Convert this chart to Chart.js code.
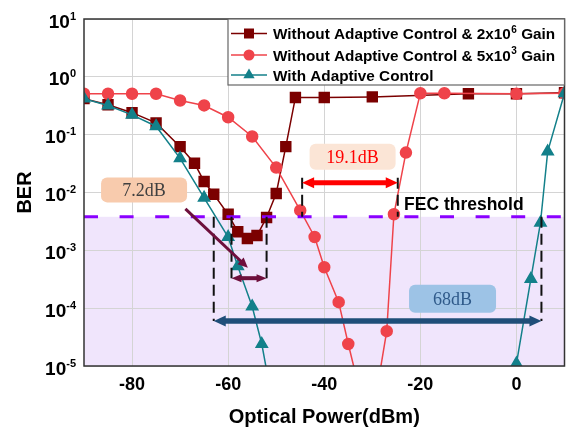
<!DOCTYPE html>
<html>
<head>
<meta charset="utf-8">
<script src="https://cdn.jsdelivr.net/npm/chart.js@4.4.0/dist/chart.umd.min.js"></script>
<style>
  body { margin: 0; background: #fff; }
  canvas { display: block; }
</style>
</head>
<body>
<canvas id="ber-chart" width="573" height="430"></canvas>
<script>
// ================== Dados ==================

// Without Adaptive Control & 2x10^6 Gain (quadrados)
const powerGainHigh = [-90, -85, -80, -75, -70, -67, -65, -63, -60, -58, -56, -54, -52, -50, -48, -46, -40, -30, -10, 0, 10];
const berGainHigh = [0.42, 0.33, 0.24, 0.16, 0.062, 0.032, 0.0155, 0.0093, 0.0042, 0.0021, 0.0016, 0.0018, 0.0037, 0.0096, 0.062, 0.44, 0.44, 0.45, 0.51, 0.51, 0.53];

// Without Adaptive Control & 5x10^3 Gain (círculos)
const powerGainLow = [-90, -85, -80, -75, -70, -65, -60, -55, -50, -45, -42, -40, -37, -35, -33, -29, -27, -25.5, -23, -20, -15, 0, 10];
const berGainLow = [0.51, 0.51, 0.51, 0.51, 0.39, 0.32, 0.2, 0.093, 0.027, 0.0049, 0.0017, 5.1e-4, 1.27e-4, 2.4e-5, 5e-6, 4e-6, 4e-5, 0.0042, 0.049, 0.52, 0.52, 0.51, 0.52];

// With Adaptive Control (triângulos) - null separa os dois ramos
const powerAdaptive = [-90, -85, -80, -75, -70, -65, -60, -58, -55, -53, -51, -20, 0, 3, 5, 6.5, 10];
const berAdaptive = [0.42, 0.32, 0.22, 0.14, 0.039, 0.0081, 0.0017, 5.3e-4, 1.07e-4, 2.4e-5, 3e-6, null, 1.1e-5, 3.2e-4, 3e-3, 0.051, 0.52];

const legendLabels = [
  ["Without Adaptive Control & 2x10", "6", " Gain"],
  ["Without Adaptive Control & 5x10", "3", " Gain"],
  ["With Adaptive Control", "", ""],
];

const xTicks = [-80, -60, -40, -20, 0];
const yExps = [-5, -4, -3, -2, -1, 0, 1];
const fecLevel = 3.8e-3;

// ================== Estilos ==================

const COR_QUADRADO = "#7b0000";
const COR_CIRCULO = "#ef434a";
const COR_TRIANGULO = "#13808a";
const SANS = "'Liberation Sans', Arial, sans-serif";
const SERIF = "'Liberation Serif', 'Times New Roman', serif";

function toPoints(xs, ys) {
  return xs.map((x, i) => ({ x, y: ys[i] }));
}

// anotações em unidades de dados
const vLines = [
  { x: -63, from: fecLevel, to: 6e-5 },
  { x: -59.3, from: fecLevel, to: 3.3e-4 },
  { x: -52, from: fecLevel, to: 3.3e-4 },
  { x: 5.2, from: fecLevel, to: 6e-5 },
  { x: -44.6, from: 0.018, to: fecLevel },
  { x: -24.7, from: 0.018, to: fecLevel },
];

const arrows = [
  { x1: -59.3, x2: -52, y: 3.3e-4, color: "#6e0f3c", lw: 4, hl: 10, hw: 8 },
  { x1: -44.6, x2: -24.7, y: 0.0147, color: "#ff0000", lw: 5, hl: 12, hw: 11 },
  { x1: -63, x2: 5.2, y: 6e-5, color: "#1f4e79", lw: 5.5, hl: 12, hw: 11 },
];

const labels = [
  { text: "7.2dB", x: -77.5, y: 0.0111, w: 86, h: 25, fill: "#f8cbad", color: "#404040" },
  { text: "19.1dB", x: -34.1, y: 0.0414, w: 86, h: 26, fill: "#fbe5d6", color: "#ff0000" },
  { text: "68dB", x: -13.3, y: 1.45e-4, w: 87, h: 28, fill: "#9dc3e6", color: "#2f5a8a" },
];

// ================== Desenho auxiliar ==================

function arrowHead(ctx, x, y, dir, hl, hw) {
  // dir = ângulo da direção da ponta
  ctx.beginPath();
  ctx.moveTo(x, y);
  ctx.lineTo(x - hl * Math.cos(dir) + (hw / 2) * Math.sin(dir), y - hl * Math.sin(dir) - (hw / 2) * Math.cos(dir));
  ctx.lineTo(x - hl * Math.cos(dir) - (hw / 2) * Math.sin(dir), y - hl * Math.sin(dir) + (hw / 2) * Math.cos(dir));
  ctx.closePath();
  ctx.fill();
}

function drawMarker(ctx, style, x, y, color) {
  ctx.fillStyle = color;
  ctx.beginPath();
  if (style === "rect") {
    ctx.rect(x - 5, y - 5, 10, 10);
  } else if (style === "circle") {
    ctx.arc(x, y, 5.5, 0, Math.PI * 2);
  } else {
    const r = 6.5;
    ctx.moveTo(x, y - r);
    ctx.lineTo(x + r * Math.sin(Math.PI / 3), y + r / 2);
    ctx.lineTo(x - r * Math.sin(Math.PI / 3), y + r / 2);
    ctx.closePath();
  }
  ctx.fill();
}

const annotationsPlugin = {
  id: "annotations",
  beforeDraw(chart) {
    const { ctx, chartArea: a, scales } = chart;
    ctx.save();
    ctx.fillStyle = "#fff";
    ctx.fillRect(0, 0, chart.width, chart.height);
    const yf = scales.y.getPixelForValue(fecLevel);
    ctx.fillStyle = "#f0e5fc";
    ctx.fillRect(a.left, yf, a.right - a.left, a.bottom - yf);
    ctx.restore();
  },
  afterDatasetsDraw(chart) {
    const { ctx, chartArea: a, scales } = chart;
    const px = (v) => scales.x.getPixelForValue(v);
    const py = (v) => scales.y.getPixelForValue(v);
    ctx.save();

    // linha FEC
    const yf = py(fecLevel);
    ctx.strokeStyle = "#8a00ff";
    ctx.lineWidth = 3;
    ctx.setLineDash([14, 21.6]);
    ctx.beginPath();
    ctx.moveTo(a.left, yf);
    ctx.lineTo(a.right, yf);
    ctx.stroke();

    // verticais tracejadas
    ctx.strokeStyle = "#111";
    ctx.lineWidth = 2;
    ctx.setLineDash([11, 6]);
    vLines.forEach((l) => {
      ctx.beginPath();
      ctx.moveTo(px(l.x), py(l.from));
      ctx.lineTo(px(l.x), py(l.to));
      ctx.stroke();
    });
    ctx.setLineDash([]);

    // setas duplas
    arrows.forEach((ar) => {
      const x1 = px(ar.x1), x2 = px(ar.x2), y = py(ar.y);
      ctx.strokeStyle = ar.color;
      ctx.fillStyle = ar.color;
      ctx.lineWidth = ar.lw;
      ctx.beginPath();
      ctx.moveTo(x1 + ar.hl - 1, y);
      ctx.lineTo(x2 - ar.hl + 1, y);
      ctx.stroke();
      arrowHead(ctx, x1, y, Math.PI, ar.hl, ar.hw);
      arrowHead(ctx, x2, y, 0, ar.hl, ar.hw);
    });

    // seta diagonal do 7.2dB
    const dx1 = px(-68.9), dy1 = py(5.2e-3), dx2 = px(-55.9), dy2 = py(5e-4);
    const ang = Math.atan2(dy2 - dy1, dx2 - dx1);
    ctx.strokeStyle = "#6e0f3c";
    ctx.fillStyle = "#6e0f3c";
    ctx.lineWidth = 3;
    ctx.beginPath();
    ctx.moveTo(dx1, dy1);
    ctx.lineTo(dx2 - 8 * Math.cos(ang), dy2 - 8 * Math.sin(ang));
    ctx.stroke();
    arrowHead(ctx, dx2, dy2, ang, 10, 9);

    // caixas de texto
    labels.forEach((lb) => {
      const cx = px(lb.x), cy = py(lb.y);
      ctx.fillStyle = lb.fill;
      ctx.beginPath();
      ctx.roundRect(cx - lb.w / 2, cy - lb.h / 2, lb.w, lb.h, 6);
      ctx.fill();
      ctx.fillStyle = lb.color;
      ctx.font = "18px " + SERIF;
      ctx.textAlign = "center";
      ctx.textBaseline = "middle";
      ctx.fillText(lb.text, cx, cy + 1);
    });

    // texto FEC
    ctx.fillStyle = "#000";
    ctx.font = "bold 17.5px " + SANS;
    ctx.textAlign = "left";
    ctx.textBaseline = "alphabetic";
    ctx.fillText("FEC threshold", px(-23.4), yf - 7);

    ctx.restore();
  },
  afterDraw(chart) {
    const { ctx, chartArea: a, scales } = chart;
    const py = (v) => scales.y.getPixelForValue(v);
    ctx.save();

    // moldura
    ctx.strokeStyle = "#333";
    ctx.lineWidth = 1.5;
    ctx.strokeRect(a.left, a.top, a.right - a.left, a.bottom - a.top);

    // rótulos do eixo y com expoente
    ctx.fillStyle = "#000";
    ctx.textBaseline = "alphabetic";
    yExps.forEach((e) => {
      const y = py(Math.pow(10, e));
      const sup = String(e);
      ctx.font = "bold 11px " + SANS;
      const sw = ctx.measureText(sup).width;
      ctx.textAlign = "left";
      ctx.fillText(sup, 76 - sw, y + 0.5);
      ctx.font = "bold 19px " + SANS;
      ctx.textAlign = "right";
      ctx.fillText("10", 76 - sw, y + 8.5);
    });

    // títulos dos eixos
    ctx.font = "bold 20px " + SANS;
    ctx.textAlign = "center";
    ctx.textBaseline = "middle";
    ctx.fillText("Optical Power(dBm)", (a.left + a.right) / 2, 417);
    ctx.save();
    ctx.translate(25, (a.top + a.bottom) / 2);
    ctx.rotate(-Math.PI / 2);
    ctx.fillText("BER", 0, 0);
    ctx.restore();

    // legenda
    const lx = 228, ly = a.top, lw = a.right - lx, lh = 66;
    ctx.fillStyle = "#fff";
    ctx.fillRect(lx, ly, lw, lh);
    ctx.strokeStyle = "#666";
    ctx.lineWidth = 1.2;
    ctx.strokeRect(lx, ly, lw, lh);
    const rows = [33.5, 55, 75];
    chart.data.datasets.forEach((ds, i) => {
      const ry = rows[i];
      ctx.strokeStyle = ds.borderColor;
      ctx.lineWidth = 1.5;
      ctx.beginPath();
      ctx.moveTo(231, ry);
      ctx.lineTo(267, ry);
      ctx.stroke();
      drawMarker(ctx, ds.pointStyle, 249, ry, ds.borderColor);
      const [t1, s, t2] = legendLabels[i];
      ctx.fillStyle = "#000";
      ctx.textAlign = "left";
      ctx.textBaseline = "alphabetic";
      ctx.font = "bold 15.3px " + SANS;
      let x = 273;
      ctx.fillText(t1, x, ry + 5.5);
      x += ctx.measureText(t1).width;
      if (s) {
        ctx.font = "bold 10px " + SANS;
        ctx.fillText(s, x + 0.5, ry - 1);
        x += ctx.measureText(s).width + 0.5;
        ctx.font = "bold 15.3px " + SANS;
        ctx.fillText(t2, x, ry + 5.5);
      }
    });

    ctx.restore();
  },
};

// ================== Gráfico ==================

const ctx = document.getElementById("ber-chart").getContext("2d");

new Chart(ctx, {
  type: "line",
  data: {
    datasets: [
      {
        label: "Without Adaptive Control & 2x10^6 Gain",
        data: toPoints(powerGainHigh, berGainHigh),
        borderColor: COR_QUADRADO,
        backgroundColor: COR_QUADRADO,
        pointBackgroundColor: COR_QUADRADO,
        pointStyle: "rect",
        pointRadius: 7,
        borderWidth: 1.5,
        order: 2,
      },
      {
        label: "Without Adaptive Control & 5x10^3 Gain",
        data: toPoints(powerGainLow, berGainLow),
        borderColor: COR_CIRCULO,
        backgroundColor: COR_CIRCULO,
        pointBackgroundColor: COR_CIRCULO,
        pointStyle: "circle",
        pointRadius: 5.5,
        borderWidth: 1.5,
        order: 1,
      },
      {
        label: "With Adaptive Control",
        data: toPoints(powerAdaptive, berAdaptive),
        borderColor: COR_TRIANGULO,
        backgroundColor: COR_TRIANGULO,
        pointBackgroundColor: COR_TRIANGULO,
        pointStyle: "triangle",
        pointRadius: 6.5,
        borderWidth: 1.5,
        order: 0,
      },
    ],
  },
  options: {
    responsive: false,
    animation: false,
    parsing: true,
    spanGaps: false,
    clip: 0,
    elements: { line: { tension: 0 }, point: { borderWidth: 0 } },
    layout: { padding: { top: 19, right: 4, left: 0, bottom: 0 } },
    scales: {
      x: {
        type: "linear",
        min: -90,
        max: 10,
        afterBuildTicks: (s) => {
          s.ticks = xTicks.map((v) => ({ value: v }));
        },
        afterFit: (s) => {
          s.height = 64;
          s.paddingLeft = 0;
          s.paddingRight = 0;
        },
        grid: { color: "#d4d4d4", lineWidth: 1, drawTicks: false },
        border: { display: false },
        ticks: {
          color: "#000",
          padding: 8,
          font: { family: SANS, size: 18, weight: "bold" },
        },
      },
      y: {
        type: "logarithmic",
        min: 1e-5,
        max: 10,
        afterBuildTicks: (s) => {
          s.ticks = yExps.map((e) => ({ value: Math.pow(10, e) }));
        },
        afterFit: (s) => {
          s.width = 84;
          s.paddingTop = 0;
          s.paddingBottom = 0;
        },
        grid: { color: "#d4d4d4", lineWidth: 1, drawTicks: false },
        border: { display: false },
        ticks: { display: false },
      },
    },
    plugins: {
      legend: { display: false },
      tooltip: { enabled: false },
    },
  },
  plugins: [annotationsPlugin],
});
</script>
</body>
</html>
